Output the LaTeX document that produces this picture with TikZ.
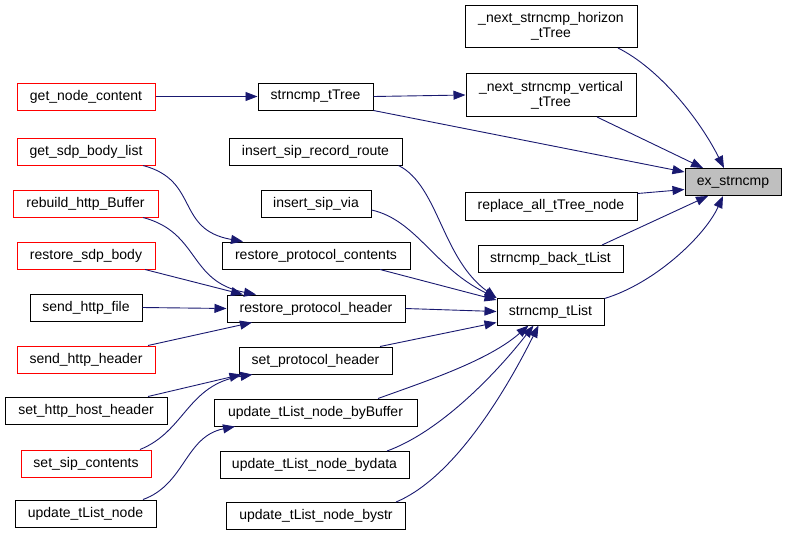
\documentclass[tikz,border=0pt]{standalone}
\usepackage{fontspec}
\setmainfont{Liberation Sans}
\usetikzlibrary{arrows.meta}
\definecolor{edgeblue}{HTML}{191970}
\definecolor{nodegray}{HTML}{BFBFBF}
\definecolor{trunc}{HTML}{FF0000}
\begin{document}
\begin{tikzpicture}[x=1pt,y=-1pt,
  fn/.style={draw=black, fill=white, line width=1pt, inner sep=0pt, minimum height=27pt, font=\fontsize{14}{15}\selectfont, align=center},
  fnred/.style={fn, draw=trunc},
  fnmain/.style={fn, fill=nodegray},
  call/.style={draw=edgeblue, line width=0.9pt, -{Triangle[length=12pt,width=9pt]}}
]
\useasboundingbox (0,0) rectangle (787,536);
% right column
\node[fnmain, minimum width=96pt] (ex) at (733,182) {ex\_strncmp};
\node[fn, minimum width=172pt, minimum height=42pt] (hor) at (551,26.5) {\_next\_strncmp\_horizon\\\_tTree};
\node[fn, minimum width=170pt, minimum height=43pt] (ver) at (551,95) {\_next\_strncmp\_vertical\\\_tTree};
\node[fn, minimum width=172pt, minimum height=28pt] (rep) at (551,206) {replace\_all\_tTree\_node};
\node[fn, minimum width=145pt] (back) at (550.5,259) {strncmp\_back\_tList};
\node[fn, minimum width=107pt] (tl) at (550.5,311.5) {strncmp\_tList};
% middle column
\node[fn, minimum width=115pt] (tt) at (315.5,96.5) {strncmp\_tTree};
\node[fn, minimum width=173pt] (isrr) at (315.5,151.5) {insert\_sip\_record\_route};
\node[fn, minimum width=110pt] (isv) at (316,203.5) {insert\_sip\_via};
\node[fn, minimum width=188pt] (rpc) at (316,255.5) {restore\_protocol\_contents};
\node[fn, minimum width=178pt] (rph) at (316,308.5) {restore\_protocol\_header};
\node[fn, minimum width=153pt] (sph) at (315.5,360.5) {set\_protocol\_header};
\node[fn, minimum width=203pt] (ubb) at (315.5,412.5) {update\_tList\_node\_byBuffer};
\node[fn, minimum width=189pt] (ubd) at (314.5,465) {update\_tList\_node\_bydata};
\node[fn, minimum width=179pt] (ubs) at (316,516) {update\_tList\_node\_bystr};
% left column
\node[fnred, minimum width=138pt] (gnc) at (86,96.5) {get\_node\_content};
\node[fnred, minimum width=138pt] (gsbl) at (86,151.5) {get\_sdp\_body\_list};
\node[fnred, minimum width=145pt] (rhb) at (85.5,203.5) {rebuild\_http\_Buffer};
\node[fnred, minimum width=138pt] (rsb) at (86,255.5) {restore\_sdp\_body};
\node[fn, minimum width=112pt] (shf) at (86,307.5) {send\_http\_file};
\node[fnred, minimum width=138pt] (shh) at (86,359.5) {send\_http\_header};
\node[fn, minimum width=162pt] (shhh) at (86,410.5) {set\_http\_host\_header};
\node[fnred, minimum width=130pt] (ssc) at (86,463.5) {set\_sip\_contents};
\node[fn, minimum width=141pt] (utn) at (85.5,513.5) {update\_tList\_node};
% edges to ex_strncmp
\draw[call] ([xshift=67pt]hor.south) .. controls +(42,21) and +(-24,-48) .. ([xshift=-9pt]ex.north);
\draw[call] ([xshift=46pt]ver.south) -- ([xshift=-30pt]ex.north);
\draw[call] (tt.south east) -- ([yshift=-4pt]ex.north west);
\draw[call] ([yshift=-2pt]rep.north east) -- ([yshift=6.5pt]ex.south west);
\draw[call] ([xshift=51.5pt]back.north) -- ([xshift=-25pt]ex.south);
\draw[call] ([yshift=-1pt]tl.north east) .. controls +(50,-15) and +(-18,40) .. ([xshift=-10pt]ex.south);
% strncmp_tTree
\draw[call] (tt.east) -- (ver.west);
\draw[call] (gnc.east) -- (tt.west);
% restore_protocol_contents / header
\draw[call] ([xshift=57pt]gsbl.south) .. controls +(57,15) and +(-68,-12) .. ([xshift=-73pt]rpc.north);
\draw[call] ([xshift=57.5pt]rhb.south) .. controls +(57,15) and +(-68,-13) .. ([xshift=-60pt]rph.north);
\draw[call] ([xshift=59pt]rsb.south) -- ([xshift=-73pt]rph.north);
\draw[call] (shf.east) -- (rph.west);
\draw[call] ([xshift=62pt]shh.north) -- ([xshift=-64pt]rph.south);
% set_protocol_header
\draw[call] ([xshift=62pt]shhh.north) -- ([xshift=-74pt]sph.south);
\draw[call] ([xshift=54pt]ssc.north) .. controls +(45,-18) and +(-65,10) .. ([xshift=-63pt]sph.south);
% update_tList_node_byBuffer
\draw[call] ([xshift=57.5pt]utn.north) .. controls +(42,-15) and +(-50,10) .. ([xshift=-80.5pt]ubb.south);
% strncmp_tList
\draw[call] ([xshift=-4pt]isrr.south east) .. controls +(40,20) and +(-55,-40) .. ([yshift=-0.5pt]tl.north west);
\draw[call] ([yshift=-6.5pt]isv.east) .. controls +(45,10) and +(-62,-30) .. ([yshift=-0.5pt]tl.north west);
\draw[call] ([xshift=64pt]rpc.south) -- ([yshift=-2.5pt]tl.north west);
\draw[call] (rph.east) -- (tl.west);
\draw[call] ([xshift=64.5pt]sph.north) -- ([yshift=3pt]tl.south west);
\draw[call] ([xshift=62.5pt]ubb.north) .. controls +(50,-18) and +(-40,35) .. ([xshift=-22pt]tl.south);
\draw[call] ([xshift=72.5pt]ubd.north) .. controls +(55,-20) and +(-35,45) .. ([xshift=-17pt]tl.south);
\draw[call] ([xshift=80pt]ubs.north) .. controls +(60,-25) and +(-30,60) .. ([xshift=-12pt]tl.south);
\end{tikzpicture}
\end{document}
